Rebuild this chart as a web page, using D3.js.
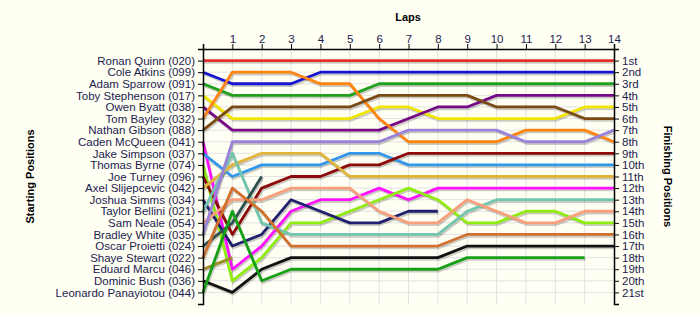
<!DOCTYPE html>
<html>
<head>
<meta charset="utf-8">
<script src="https://cdn.jsdelivr.net/npm/d3@7"></script>
<style>
  body { margin: 0; background: #fffff4; }
  svg { display: block; font-family: Arial, "Liberation Sans", sans-serif; }
  .tick text { fill: #1c1c50; font-size: 11.5px; }
  .domain, .tick line { stroke: #000; }
  .title { font-weight: bold; font-size: 11px; fill: #000; }
</style>
</head>
<body>
<div id="chart"></div>
<script>
// Lap chart data
const drivers = [
  "Ronan Quinn (020)", "Cole Atkins (099)", "Adam Sparrow (091)", "Toby Stephenson (017)",
  "Owen Byatt (038)", "Tom Bayley (032)", "Nathan Gibson (088)", "Caden McQueen (041)",
  "Jake Simpson (037)", "Thomas Byrne (074)", "Joe Turney (096)", "Axel Slijepcevic (042)",
  "Joshua Simms (034)", "Taylor Bellini (021)", "Sam Neale (054)", "Bradley White (035)",
  "Oscar Proietti (024)", "Shaye Stewart (022)", "Eduard Marcu (046)", "Dominic Bush (036)",
  "Leonardo Panayiotou (044)"
];

const laps = [1, 2, 3, 4, 5, 6, 7, 8, 9, 10, 11, 12, 13, 14];

const finishLabels = [
  "1st", "2nd", "3rd", "4th", "5th", "6th", "7th", "8th", "9th", "10th", "11th",
  "12th", "13th", "14th", "15th", "16th", "17th", "18th", "19th", "20th", "21st"
];

// position of each driver at lap 0 (start) .. lap 14, shorter when retired
const positions = [
  [1, 1, 1, 1, 1, 1, 1, 1, 1, 1, 1, 1, 1, 1, 1],
  [2, 3, 3, 3, 2, 2, 2, 2, 2, 2, 2, 2, 2, 2, 2],
  [3, 4, 4, 4, 4, 4, 3, 3, 3, 3, 3, 3, 3, 3, 3],
  [4, 6, 6, 6, 6, 6, 5, 5, 6, 6, 6, 6, 6, 5, 5],
  [5, 7, 7, 7, 7, 7, 7, 6, 5, 5, 4, 4, 4, 4, 4],
  [6, 2, 2, 2, 3, 3, 6, 8, 8, 8, 8, 7, 7, 7, 8],
  [7, 5, 5, 5, 5, 5, 4, 4, 4, 4, 5, 5, 5, 6, 6],
  [8, 19, 17, 14, 13, 13, 12, 13, 12, 12, 12, 12, 12, 12, 12],
  [9, 11, 10, 10, 10, 9, 9, 10, 10, 10, 10, 10, 10, 10, 10],
  [10, 20, 18, 15, 15, 14, 13, 12, 13, 15, 15, 14, 14, 15, 15],
  [11, 16, 12, 11, 11, 10, 10, 9, 9, 9, 9, 9, 9, 9, 9],
  [12, 10, 9, 9, 9, 11, 11, 11, 11, 11, 11, 11, 11, 11, 11],
  [13, 17, 16, 13, 14, 15, 15, 14, 14],
  [14, 9, 15, 16, 16, 16, 16, 16, 16, 14, 13, 13, 13, 13, 13],
  [15, 13, 13, 12, 12, 12, 14, 15, 15, 13, 14, 15, 15, 14, 14],
  [16, 8, 8, 8, 8, 8, 8, 7, 7, 7, 7, 8, 8, 8, 7],
  [17, 15, 11],
  [18, 12, 14, 17, 17, 17, 17, 17, 17, 16, 16, 16, 16, 16, 16],
  [19, 18],
  [20, 21, 19, 18, 18, 18, 18, 18, 18, 17, 17, 17, 17, 17, 17],
  [21, 14, 20, 19, 19, 19, 19, 19, 19, 18, 18, 18, 18, 18]
];

// line colours, one per driver
const palette = [
  "#e8302a", "#1414d2", "#1ea01e", "#f2e600", "#760a86", "#ff8410", "#7a4a14",
  "#ff10ff", "#3398ec", "#90ec10", "#8c0a0a", "#e2b43a", "#20206e", "#72c6ae",
  "#f8a07c", "#9a82d8", "#2f4f4f", "#d2702e", "#9a8c22", "#111111", "#15a015"
];

const width = 700, height = 315;
const margin = { top: 49, right: 86, bottom: 11, left: 203 };

const svg = d3.select("#chart").append("svg")
  .attr("width", width)
  .attr("height", height);

const x = d3.scaleLinear().domain([0, 14]).range([margin.left, width - margin.right]);
const y = d3.scaleLinear().domain([0, 22]).range([margin.top, height - margin.bottom]);

// grid
const grid = svg.append("g").attr("stroke", "#e2e2e2").attr("stroke-width", 1);
grid.selectAll("line.v").data(laps.slice(0, -1)).join("line")
  .attr("x1", d => x(d)).attr("x2", d => x(d))
  .attr("y1", y(0)).attr("y2", y(22));
grid.selectAll("line.h").data(d3.range(1, 22)).join("line")
  .attr("x1", x(0)).attr("x2", x(14))
  .attr("y1", d => y(d)).attr("y2", d => y(d));

const line = d3.line()
  .x((d, i) => x(i))
  .y(d => y(d));

// shadows first, then the coloured lines
svg.append("g")
  .attr("transform", "translate(1,1.8)")
  .selectAll("path").data(positions).join("path")
  .attr("d", line)
  .attr("fill", "none")
  .attr("stroke", "rgba(0,0,0,0.2)")
  .attr("stroke-width", 2.8);

svg.append("g")
  .selectAll("path").data(positions).join("path")
  .attr("d", line)
  .attr("fill", "none")
  .attr("stroke", (d, i) => palette[i])
  .attr("stroke-width", 2.8)
  .attr("stroke-linejoin", "round");

// axes
svg.append("g")
  .attr("transform", `translate(0,${margin.top})`)
  .call(d3.axisTop(x).tickValues(laps).tickFormat(d3.format("d")).tickSize(5).tickSizeOuter(5).tickPadding(1));

svg.append("g")
  .attr("transform", `translate(${margin.left},0)`)
  .call(d3.axisLeft(y).tickValues(d3.range(1, 22)).tickFormat(d => drivers[d - 1]).tickSize(5).tickSizeOuter(5).tickPadding(3));

svg.append("g")
  .attr("transform", `translate(${width - margin.right},0)`)
  .call(d3.axisRight(y).tickValues(d3.range(1, 22)).tickFormat(d => finishLabels[d - 1]).tickSize(5).tickSizeOuter(5).tickPadding(3));

svg.selectAll(".domain").attr("stroke-width", 1.5);

// titles
svg.append("text").attr("class", "title")
  .attr("x", 408).attr("y", 21)
  .attr("text-anchor", "middle")
  .text("Laps");

svg.append("text").attr("class", "title")
  .attr("transform", `translate(34,${(y(0) + y(22)) / 2}) rotate(-90)`)
  .attr("text-anchor", "middle")
  .text("Starting Positions");

svg.append("text").attr("class", "title")
  .attr("transform", `translate(664,${(y(0) + y(22)) / 2}) rotate(90)`)
  .attr("text-anchor", "middle")
  .text("Finishing Positions");
</script>
</body>
</html>
